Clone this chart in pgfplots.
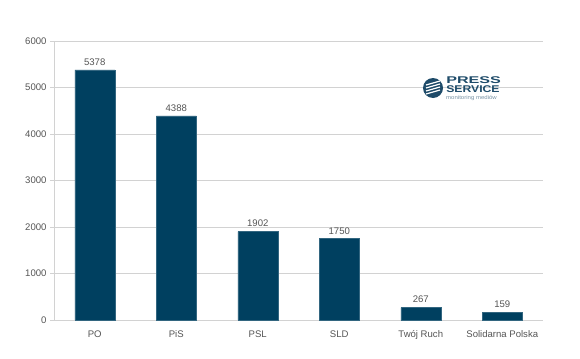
\documentclass[border=0pt]{standalone}
\usepackage{pgfplots}
\pgfplotsset{compat=1.18}
\usepackage{fontspec}
\setmainfont{Liberation Sans}
\definecolor{barc}{RGB}{0,64,96}
\definecolor{txt}{RGB}{85,85,85}
\definecolor{gridc}{RGB}{210,210,210}
\definecolor{logoc}{RGB}{30,75,105}
\begin{document}
\begin{tikzpicture}[x=1bp,y=1bp]
\path[fill=white] (0,0) rectangle (580,358);
\begin{axis}[
  at={(54bp,38bp)}, anchor=south west,
  scale only axis, width=489bp, height=279bp,
  xmin=-0.5, xmax=5.5, ymin=0, ymax=6000,
  xtick={0,1,2,3,4,5},
  xticklabels={PO,PiS,PSL,SLD,Twój Ruch,Solidarna Polska},
  extra x ticks={-0.5,0.5,1.5,2.5,3.5,4.5,5.5},
  extra x tick labels={},
  extra x tick style={major tick length=4bp, tick style={draw=gridc}, tick pos=left},
  major x tick style={draw=none},
  ytick={0,1000,...,6000},
  ymajorgrids, grid style={draw=gridc, line width=0.6pt},
  axis line style={draw=gridc, line width=0.6pt},
  axis x line*=bottom, axis y line*=left,
  ytick style={draw=gridc}, tick align=outside, major tick length=4bp,
  tick label style={font=\fontsize{9.6}{11}\selectfont, text=txt},
  /pgf/number format/assume math mode=true,
  scaled y ticks=false,
  yticklabel style={/pgf/number format/1000 sep={}},
  xticklabel style={yshift=-3bp},
  ybar, bar width=40bp,
  nodes near coords,
  nodes near coords style={font=\fontsize{9.6}{11}\selectfont, text=txt, /pgf/number format/1000 sep={}, yshift=1bp},
  clip=false,
]
\addplot[fill=barc, draw=barc!80!white] coordinates {(0,5378) (1,4388) (2,1902) (3,1750) (4,267) (5,159)};
\end{axis}
% logo
\fill[logoc] (433,270) circle (10);
\foreach \d in {-5,-2,1,4}{\draw[white, line width=1.2pt] (426,269+\d) -- (440,273+\d);}
\node[anchor=base west, text=logoc, font=\bfseries\fontsize{9.8}{10}\selectfont, inner sep=0, xscale=1.65] at (446,274.5) {PRESS};
\node[anchor=base west, text=logoc, font=\bfseries\fontsize{9.8}{10}\selectfont, inner sep=0, xscale=1.25] at (446,265.5) {SERVICE};
\node[anchor=base west, text=logoc!60!white, font=\fontsize{5.5}{6}\selectfont, inner sep=0, xscale=1.1] at (446,258.5) {monitoring mediów};
\end{tikzpicture}
\end{document}
